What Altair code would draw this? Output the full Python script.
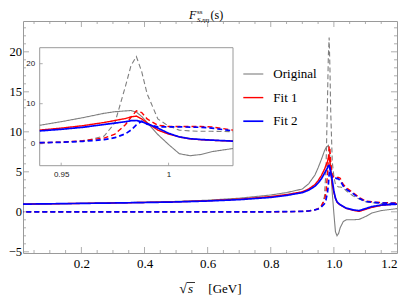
import altair as alt
import pandas as pd

# ---------------- data ----------------
x_grid = [0.0, 0.1, 0.2, 0.3, 0.4, 0.5, 0.6, 0.7, 0.8, 0.85, 0.9,
          0.92, 0.94, 0.95, 0.96, 0.97, 0.975, 0.98, 0.9825, 0.985, 0.9875,
          0.99, 0.995, 1.0, 1.005, 1.01, 1.015, 1.02, 1.03, 1.04, 1.06,
          1.08, 1.1, 1.12, 1.15, 1.2]

orig_solid = [0.95, 1.0, 1.05, 1.12, 1.2, 1.3, 1.45, 1.7, 2.1, 2.4, 2.85,
              3.5, 4.6, 5.5, 6.5, 7.6, 8.0, 8.2, 8.3, 7.9, 6.8,
              5.3, 2.3, -0.2, -2.5, -3.0, -2.7, -2.0, -1.2, -1.0, -1.0,
              -0.95, -0.6, -0.15, 0.15, 0.4]
orig_dashed = [0, 0, 0, 0, 0, 0, 0, 0, 0, 0.02, 0.05,
               0.1, 0.25, 0.35, 0.6, 1.9, 5.2, 14.5, 19.5, 21.8, 18.0,
               12.5, 6.2, 4.4, 3.4, 3.2, 3.1, 3.1, 3.0, 2.6, 2.0,
               1.6, 1.25, 1.15, 1.05, 1.0]
fit1_solid = [0.95, 1.0, 1.05, 1.1, 1.17, 1.25, 1.38, 1.58, 1.9, 2.15, 2.5,
              2.85, 3.4, 3.9, 4.5, 5.3, 5.8, 6.3, 6.7, 6.9, 6.2,
              5.2, 3.4, 2.4, 1.7, 1.2, 1.0, 0.85, 0.65, 0.4, 0.2,
              0.05, 0.3, 0.55, 0.8, 1.0]
fit1_dashed = [0, 0, 0, 0, 0, 0, 0, 0, 0, 0.02, 0.05,
               0.1, 0.25, 0.4, 0.75, 1.4, 2.4, 4.8, 6.6, 8.2, 7.8,
               6.2, 4.6, 4.3, 4.3, 4.3, 4.3, 4.2, 3.4, 3.0, 2.4,
               1.8, 1.35, 1.25, 1.15, 1.1]
fit2_solid = [0.95, 1.0, 1.05, 1.1, 1.16, 1.23, 1.35, 1.52, 1.8, 2.05, 2.4,
              2.7, 3.2, 3.6, 4.1, 4.8, 5.15, 5.5, 5.75, 5.8, 5.5,
              5.0, 3.9, 2.6, 1.7, 1.25, 1.05, 0.9, 0.65, 0.45, 0.25,
              0.15, 0.4, 0.65, 0.85, 0.95]
fit2_dashed = [0, 0, 0, 0, 0, 0, 0, 0, 0, 0.02, 0.05,
               0.1, 0.25, 0.35, 0.6, 1.0, 1.5, 2.5, 3.4, 4.7, 5.6,
               4.9, 4.2, 4.2, 4.2, 4.15, 4.1, 3.9, 3.2, 2.8, 2.3,
               1.7, 1.3, 1.2, 1.1, 1.05]

series_order = ["Original", "Fit 1", "Fit 2"]
series_colors = ["#7f7f7f", "#ff0000", "#0000ff"]

main_x_labels = [0.2, 0.4, 0.6, 0.8, 1.0, 1.2]
main_y_labels = [-5, 0, 5, 10, 15, 20]
major_x = [0.2, 0.4, 0.6, 0.8, 1.0]
minor_x = [0.05, 0.1, 0.15, 0.25, 0.3, 0.35, 0.45, 0.5, 0.55, 0.65, 0.7, 0.75,
           0.85, 0.9, 0.95, 1.05, 1.1, 1.15]
major_y = [-5, 0, 5, 10, 15, 20]
minor_y = [-4, -3, -2, -1, 1, 2, 3, 4, 6, 7, 8, 9, 11, 12, 13, 14, 16, 17, 18, 19,
           21, 22, 23]
inset_x_labels = [0.95, 1.0]
inset_y_labels = [0, 10, 20]

curves = [("Original", "solid", orig_solid), ("Original", "dashed", orig_dashed),
          ("Fit 1", "solid", fit1_solid), ("Fit 1", "dashed", fit1_dashed),
          ("Fit 2", "solid", fit2_solid), ("Fit 2", "dashed", fit2_dashed)]
rows = []
for s, st, ys in curves:
    for xv, yv in zip(x_grid, ys):
        rows.append({"x": xv, "y": yv, "series": s, "style": st})
df = pd.DataFrame(rows)
df_inset = df[(df.x >= 0.94) & (df.x <= 1.03)]

# ---------------- layout ----------------
W, H = 374, 232
SERIF = "Liberation Serif"
SANS = "Liberation Sans"
FRAME = "#9a9a9a"


def xs_main():
    return alt.Scale(domain=[0.015, 1.2], nice=False, zero=False)


def ys_main():
    return alt.Scale(domain=[-5.15, 23.85], nice=False, zero=False)


IX0, IX1, IY0, IY1 = 16.7, 210.0, 26.7, 144.7


def xs_in():
    return alt.Scale(domain=[0.94, 1.03], range=[IX0, IX1], nice=False, zero=False)


def ys_in():
    return alt.Scale(domain=[-5.5, 24.0], range=[IY1, IY0], nice=False, zero=False)


color_scale = alt.Scale(domain=series_order, range=series_colors)
dash_scale = alt.Scale(domain=["solid", "dashed"], range=[[1, 0], [5, 3]])
width_scale = alt.Scale(domain=series_order, range=[1.1, 1.7, 1.7])
legend = alt.Legend(title=None, orient="none", legendX=219.3, legendY=42,
                    symbolType="stroke", symbolSize=400, symbolStrokeWidth=1.8,
                    labelFont=SERIF, labelFontSize=13, labelColor="black",
                    labelOffset=9, rowPadding=5.6, padding=0)

xaxis_main = alt.Axis(orient="bottom", values=main_x_labels, format=".1f", ticks=False,
                      domain=False, grid=False, labelFont=SERIF, labelFontSize=13,
                      labelColor="black", labelPadding=4, labelFlush=True, title="")
yaxis_main = alt.Axis(orient="left", values=main_y_labels, format="d", ticks=False,
                      domain=False, grid=False, labelFont=SERIF, labelFontSize=12.5,
                      labelColor="black", labelPadding=1.5, labelFlush=False, title="")
xaxis_in = alt.Axis(orient="bottom", offset=-(H - IY1), values=inset_x_labels, format=".2~f",
                    ticks=False, domain=False, grid=False, labelFont=SANS, labelFontSize=8,
                    labelColor="#222222", labelPadding=5, labelFlush=False, title="")
yaxis_in = alt.Axis(orient="left", offset=-IX0, values=inset_y_labels, format="d",
                    ticks=False, domain=False, grid=False, labelFont=SANS, labelFontSize=8,
                    labelColor="#222222", labelPadding=5, labelFlush=False, title="")


def curve_layers(data, xs, ys, xaxis, yaxis, clip):
    out = []
    for i, s in enumerate(series_order):
        out.append(
            alt.Chart(data).transform_filter(alt.datum.series == s)
            .mark_line(clip=clip)
            .encode(
                x=alt.X("x:Q", scale=xs(), axis=xaxis if i == 0 else None),
                y=alt.Y("y:Q", scale=ys(), axis=yaxis if i == 0 else None),
                color=alt.Color("series:N", scale=color_scale, legend=legend),
                strokeDash=alt.StrokeDash("style:N", scale=dash_scale, legend=None),
                strokeWidth=alt.StrokeWidth("series:N", scale=width_scale, legend=None),
                detail="style:N",
            )
        )
    return out


def xtick_layers(vals, length, xs, ybottom, ytop, both=True):
    d = pd.DataFrame({"t": vals})
    res = [alt.Chart(d).mark_rule(color=FRAME, strokeWidth=0.8).encode(
        x=alt.X("t:Q", scale=xs(), axis=None), y=alt.value(ybottom), y2=alt.value(ybottom - length))]
    if both:
        res.append(alt.Chart(d).mark_rule(color=FRAME, strokeWidth=0.8).encode(
            x=alt.X("t:Q", scale=xs(), axis=None), y=alt.value(ytop), y2=alt.value(ytop + length)))
    return res


def ytick_layers(vals, length, ys, xleft, xright, both=True):
    d = pd.DataFrame({"t": vals})
    res = [alt.Chart(d).mark_rule(color=FRAME, strokeWidth=0.8).encode(
        y=alt.Y("t:Q", scale=ys(), axis=None), x=alt.value(xleft), x2=alt.value(xleft + length))]
    if both:
        res.append(alt.Chart(d).mark_rule(color=FRAME, strokeWidth=0.8).encode(
            y=alt.Y("t:Q", scale=ys(), axis=None), x=alt.value(xright), x2=alt.value(xright - length)))
    return res


one = pd.DataFrame({"k": [0]})


def txt(s, x, y, size, italic=False):
    return alt.Chart(one).mark_text(
        text=s, align="left", baseline="alphabetic", font=SERIF, fontSize=size,
        fontStyle="italic" if italic else "normal", color="black"
    ).encode(x=alt.value(x), y=alt.value(y))


frame = alt.Chart(one).mark_rect(fill="white", stroke=FRAME, strokeWidth=1).encode(
    x=alt.value(IX0), x2=alt.value(IX1), y=alt.value(IY0), y2=alt.value(IY1))

# x-axis title  "√s  [GeV]"  (radical with an overbar)
xtitle = [
    txt("√", 156.3, 272.3, 14),
    txt("s", 165.0, 272.3, 13, True),
    alt.Chart(one).mark_rule(color="black", strokeWidth=0.8).encode(
        x=alt.value(164.0), x2=alt.value(172.0), y=alt.value(261.5)),
    txt("[GeV]", 185.3, 272.3, 13),
]

layers = (
    xtick_layers(major_x, 6, xs_main, H, 0)
    + xtick_layers(minor_x, 3, xs_main, H, 0)
    + ytick_layers(major_y, 6, ys_main, 0, W)
    + ytick_layers(minor_y, 3, ys_main, 0, W)
    + curve_layers(df, xs_main, ys_main, xaxis_main, yaxis_main, True)
    + [txt("F", 166, -1.8, 12, True), txt("ss", 174, -6.7, 7),
       txt("S,ηη", 174, 1.3, 7, True), txt("(s)", 187.5, -1.8, 12)]
    + xtitle
    + [frame]
    + xtick_layers(inset_x_labels, 3, xs_in, IY1, IY0, both=False)
    + ytick_layers(inset_y_labels, 3, ys_in, IX0, IX1, both=False)
    + curve_layers(df_inset, xs_in, ys_in, xaxis_in, yaxis_in, False)
)

chart = alt.layer(*layers).resolve_scale(x="independent", y="independent").properties(
    width=W, height=H,
    padding={"left": 15, "top": 13, "right": 2, "bottom": 44},
    autosize=alt.AutoSizeParams(type="none"),
).configure(font=SERIF).configure_view(stroke=FRAME, strokeWidth=1).configure_axis(
    grid=False, labelFont=SERIF, titleFont=SERIF
).configure_legend(labelFont=SERIF)

chart.save("out.html", embed_options={"renderer": "svg", "actions": False})
